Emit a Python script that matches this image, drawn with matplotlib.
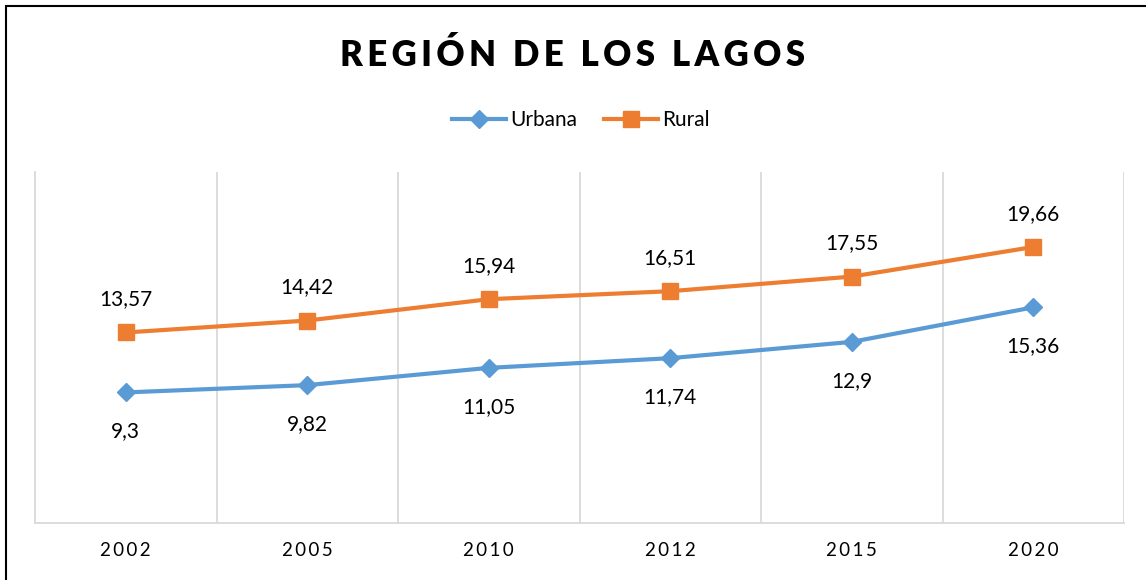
import matplotlib.pyplot as plt
from matplotlib.patches import Rectangle

years = ['2002', '2005', '2010', '2012', '2015', '2020']
urbana = [9.3, 9.82, 11.05, 11.74, 12.9, 15.36]
rural = [13.57, 14.42, 15.94, 16.51, 17.55, 19.66]

blue = '#5B9BD5'
orange = '#ED7D31'
fam = ['Lato', 'DejaVu Sans']


def spaced(s, gap='\u2009'):
    return gap.join(s)


def fmt(v):
    return ('%g' % v).replace('.', ',')


fig = plt.figure(figsize=(11.46, 5.8), dpi=100)
ax = fig.add_axes([35 / 1146, 57 / 580, 1089 / 1146, 351 / 580])

x = range(len(years))
ax.plot(x, urbana, color=blue, lw=3, marker='D', ms=9, label='Urbana')
ax.plot(x, rural, color=orange, lw=3, marker='s', ms=11, label='Rural')

for i, v in enumerate(urbana):
    ax.annotate(fmt(v), (i, v), xytext=(0, -28), textcoords='offset points',
                ha='center', va='center', fontsize=15, family=fam, color='#000000')
for i, v in enumerate(rural):
    ax.annotate(fmt(v), (i, v), xytext=(0, 24), textcoords='offset points',
                ha='center', va='center', fontsize=15, family=fam, color='#000000')

ax.set_xlim(-0.5, len(years) - 0.5)
ax.set_ylim(0, 25)
ax.set_yticks([])
ax.set_xticks(list(x))
ax.set_xticklabels([spaced(y) for y in years], family=fam, fontsize=13.5)
ax.tick_params(axis='x', length=0, pad=14)
for b in [i + 0.5 for i in range(len(years) - 1)]:
    ax.axvline(b, color='#D9D9D9', lw=1.3, zorder=0)
for s in ['top', 'right']:
    ax.spines[s].set_visible(False)
ax.spines['left'].set_color('#D9D9D9')
ax.spines['left'].set_linewidth(1.3)
ax.spines['bottom'].set_color('#D9D9D9')
ax.spines['bottom'].set_linewidth(1.3)
ax.axvline(len(years) - 0.5, color='#D9D9D9', lw=1.3, zorder=0)

fig.text(0.5, 1 - 55 / 580, '\u2009'.join('REGIÓN DE LOS LAGOS'), ha='center', va='center',
         fontsize=25, fontweight='heavy', family=fam)

fig.legend(loc='center', bbox_to_anchor=(0.507, 1 - 120 / 580), ncol=2, frameon=False,
           prop={'family': fam, 'size': 15}, handlelength=2.6, columnspacing=1.3,
           handletextpad=0.2)

fig.patches.append(Rectangle((6 / 1146, -0.1), 1.2, 1 - 6 / 580 + 0.1, transform=fig.transFigure,
                             fill=False, edgecolor='black', lw=1.5))

fig.savefig('out.png', dpi=100)
